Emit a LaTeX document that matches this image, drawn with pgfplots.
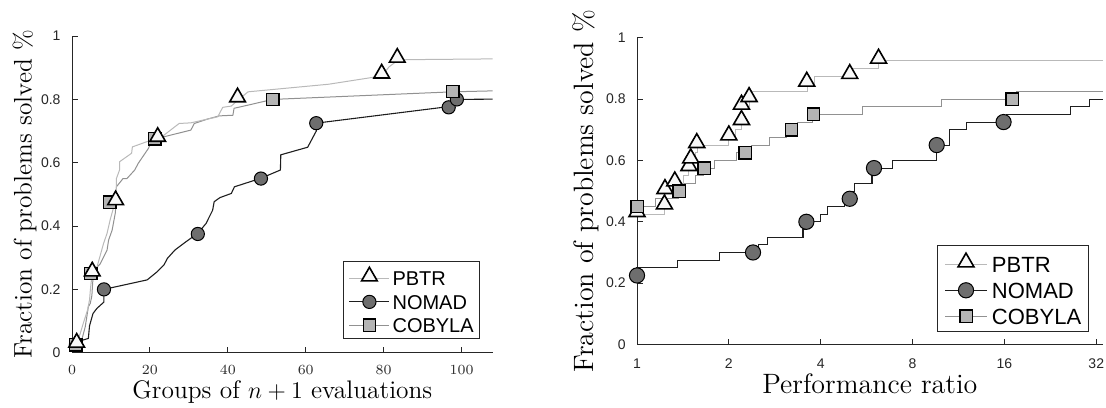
\documentclass[border=0pt]{standalone}
\usepackage{pgfplots}
\pgfplotsset{compat=1.18}
\usepackage{fontspec}
\newfontfamily\lsans{Liberation Sans}
\definecolor{axgray}{RGB}{38,38,38}
\definecolor{pbtrline}{RGB}{185,185,185}
\definecolor{cobline}{RGB}{145,145,145}
\definecolor{nomline}{RGB}{30,30,30}
\definecolor{trifill}{RGB}{248,248,248}
\definecolor{cirfill}{RGB}{110,110,110}
\definecolor{sqfill}{RGB}{180,180,180}
\pgfplotsset{
  pbtr/.style={color=pbtrline, line width=0.5pt, mark=triangle*, mark size=#1,
    mark options={draw=black, fill=trifill, line width=0.8pt, yshift=1.1pt}},
  nomad/.style={color=nomline, line width=0.55pt, mark=*, mark size=#1,
    mark options={draw=black, fill=cirfill, line width=0.5pt}},
  cobyla/.style={color=cobline, line width=0.5pt, mark=square*, mark size=#1,
    mark options={draw=black, fill=sqfill, line width=0.7pt}},
  myaxis/.style={
    scale only axis, anchor=south west, clip=false,
    axis lines=left, axis line style={-, draw=axgray, line width=0.5pt},
    tick align=inside, major tick length=3pt, tick style={draw=axgray, line width=0.5pt},
    ymin=0, ymax=1, ytick={0,0.2,0.4,0.6,0.8,1}, yticklabels={0,0.2,0.4,0.6,0.8,1},
    ticklabel style={font=\lsans\fontsize{7}{8.4}\selectfont, text=axgray},
    yticklabel style={xshift=-2.2pt},
    legend cell align=left,
    legend entries={PBTR,NOMAD,COBYLA},
  },
}
\begin{document}
\begin{tikzpicture}
\path[use as bounding box] (0,0) rectangle (553pt,203.5pt);
% ---------------- left ----------------
\begin{axis}[myaxis,
  at={(36pt,27.15pt)}, width=210.35pt, height=158.3pt,
  xmin=0, xmax=108, xtick={0,20,40,60,80,100},
  xticklabel style={yshift=-3pt},
  xlabel={Groups of $n+1$ evaluations},
  xlabel style={font=\fontsize{12.7}{15}\selectfont, at={(axis description cs:0.5,-0.144)}, anchor=base},
  ylabel={Fraction of problems solved \%},
  ylabel style={font=\fontsize{12.7}{15}\selectfont, at={(axis description cs:-0.0958,0.5)}, anchor=base},
  legend image code/.code={\draw[mark repeat=2,mark phase=2,#1] plot coordinates {(0pt,0pt) (10pt,0pt) (20pt,0pt)};},
  legend style={at={(axis description cs:1,0)}, anchor=south east, xshift=-6.35pt, yshift=6.85pt,
    draw=axgray, line width=0.5pt, font=\lsans\fontsize{10}{12}\selectfont,
    inner xsep=2.9pt, inner ysep=3pt, row sep=4.5pt,
    nodes={inner sep=0pt, text height=7.2pt, text depth=0pt},
    /tikz/every odd column/.append style={column sep=1.3pt}},
]
\addlegendimage{pbtr=4.5pt}
\addlegendimage{nomad=3.3pt}
\addlegendimage{cobyla=3.1pt}
% lines
\addplot[cobyla=3.1pt, mark=none, forget plot] coordinates {
(1,0.025)(2.5,0.04)(3.4,0.082)(4.2,0.145)(4.7,0.156)(5.1,0.18)(5.3,0.22)(5.6,0.26)(7.2,0.28)(9.0,0.324)(9.4,0.356)(10.3,0.387)(11.1,0.44)(11.4,0.482)(11.4,0.524)(13.1,0.55)(14.1,0.55)(16.1,0.577)(17,0.598)(19.6,0.645)(20.9,0.68)(23.6,0.682)(30.5,0.703)(31.4,0.724)(34.8,0.738)(37.8,0.748)(41.3,0.75)(41.6,0.772)(45.2,0.782)(51.5,0.80)(97.8,0.824)(108,0.827)};
\addplot[pbtr=4.5pt, mark=none, forget plot] coordinates {
(1,0.025)(2.1,0.06)(2.9,0.093)(4.0,0.135)(4.5,0.167)(4.8,0.21)(5.2,0.25)(6.4,0.27)(8.1,0.345)(9.0,0.377)(9.8,0.42)(10.7,0.46)(11.1,0.477)(11.4,0.514)(11.4,0.55)(12.2,0.577)(12.2,0.603)(15.3,0.63)(15.5,0.65)(19.1,0.666)(21.7,0.677)(23.6,0.687)(27.5,0.724)(30.5,0.726)(37.4,0.745)(38.7,0.775)(40.9,0.779)(42.6,0.798)(45.2,0.824)(59,0.84)(65.9,0.848)(77.9,0.871)(79.7,0.876)(81.4,0.903)(83.8,0.925)(90,0.926)(108,0.928)};
\addplot[nomad=3.3pt, mark=none, forget plot] coordinates {
(1,0.02)(2.8,0.04)(4.2,0.045)(4.5,0.085)(5.4,0.124)(6.4,0.14)(8.2,0.16)(8.2,0.2)(19.3,0.23)(21.9,0.256)(23.6,0.277)(24.5,0.298)(26.4,0.324)(29.2,0.35)(32.3,0.377)(34.4,0.408)(36.1,0.45)(36.5,0.477)(38,0.49)(40.9,0.503)(41.7,0.524)(48.5,0.551)(53.5,0.577)(53.6,0.625)(60.5,0.649)(62.7,0.70)(62.7,0.725)(95.2,0.775)(96.7,0.775)(98.8,0.80)(100.4,0.80)(108,0.801)};
% markers
\addplot[nomad=3.3pt, only marks, forget plot] coordinates {
(1,0.025)(8.2,0.2)(32.3,0.375)(48.5,0.55)(62.7,0.725)(96.7,0.775)(98.8,0.80)};
\addplot[cobyla=3.1pt, only marks, forget plot] coordinates {
(1,0.025)(4.8,0.25)(9.7,0.475)(21.3,0.675)(51.5,0.80)(97.8,0.825)};
\addplot[pbtr=4.5pt, only marks, forget plot] coordinates {
(1.2,0.025)(5.2,0.25)(11.2,0.475)(22,0.675)(42.5,0.80)(79.5,0.875)(83.5,0.925)};
\end{axis}
% ---------------- right ----------------
\begin{axis}[myaxis,
  at={(318.5pt,31.25pt)}, width=232.85pt, height=153.4pt,
  xmode=log, log basis x=2, xmin=1, xmax=33.6,
  xtick={1,2,4,8,16,32}, xticklabels={1,2,4,8,16,32},
  xticklabel style={yshift=-3.8pt},
  xlabel={Performance ratio},
  xlabel style={font=\fontsize{14}{17}\selectfont, at={(axis description cs:0.5,-0.160)}, anchor=base},
  ylabel={Fraction of problems solved \%},
  ylabel style={font=\fontsize{14}{17}\selectfont, at={(axis description cs:-0.0938,0.5)}, anchor=base},
  legend image code/.code={\draw[mark repeat=2,mark phase=2,#1] plot coordinates {(0pt,0pt) (10.5pt,0pt) (21pt,0pt)};},
  legend style={at={(axis description cs:1,0)}, anchor=south east, xshift=-7pt, yshift=6.4pt,
    draw=axgray, line width=0.5pt, font=\lsans\fontsize{11}{13}\selectfont,
    inner xsep=3.5pt, inner ysep=3.6pt, row sep=5pt,
    nodes={inner sep=0pt, text height=7.9pt, text depth=0pt},
    /tikz/every odd column/.append style={column sep=2.2pt}},
]
\addlegendimage{pbtr=4.6pt}
\addlegendimage{nomad=3.8pt}
\addlegendimage{cobyla=3.1pt}
\addplot[pbtr=4.6pt, mark=none, const plot, forget plot] coordinates {
(1,0.425)(1.23,0.45)(1.24,0.475)(1.24,0.5)(1.32,0.525)(1.42,0.55)(1.48,0.575)(1.50,0.6)(1.56,0.625)(1.58,0.65)(2.0,0.675)(2.1,0.70)(2.2,0.725)(2.2,0.75)(2.2,0.775)(2.33,0.80)(2.36,0.825)(3.62,0.85)(3.82,0.875)(4.98,0.90)(6.19,0.925)(33.6,0.925)};
\addplot[cobyla=3.1pt, mark=none, const plot, forget plot] coordinates {
(1,0.45)(1.15,0.475)(1.37,0.5)(1.43,0.525)(1.55,0.55)(1.65,0.575)(1.80,0.60)(2.12,0.625)(2.37,0.65)(2.72,0.675)(3.1,0.70)(3.35,0.725)(3.75,0.75)(5.47,0.775)(9.98,0.80)(17.5,0.825)(33.6,0.825)};
\addplot[nomad=3.8pt, mark=none, const plot, forget plot] coordinates {
(1,0.225)(1,0.25)(1.36,0.275)(1.87,0.30)(2.5,0.325)(2.67,0.35)(3.5,0.375)(3.57,0.40)(4.0,0.425)(4.2,0.45)(4.8,0.475)(5.0,0.50)(5.17,0.525)(5.89,0.575)(6.86,0.60)(9.56,0.65)(10.57,0.70)(11.98,0.725)(16.3,0.75)(26.4,0.775)(30.4,0.80)(33.6,0.80)};
\addplot[pbtr=4.6pt, only marks, forget plot] coordinates {
(1,0.425)(1.23,0.45)(1.235,0.5)(1.33,0.525)(1.48,0.575)(1.50,0.60)(1.57,0.65)(2.0,0.675)(2.2,0.725)(2.2,0.775)(2.33,0.80)(3.6,0.85)(4.98,0.875)(6.19,0.925)};
\addplot[nomad=3.8pt, only marks, forget plot] coordinates {
(1,0.225)(2.4,0.30)(3.59,0.40)(4.98,0.475)(5.98,0.575)(9.6,0.65)(15.9,0.725)};
\addplot[cobyla=3.1pt, only marks, forget plot] coordinates {
(1,0.45)(1.375,0.5)(1.66,0.575)(2.26,0.625)(3.21,0.70)(3.79,0.75)(16.96,0.80)};
\end{axis}
\end{tikzpicture}
\end{document}
